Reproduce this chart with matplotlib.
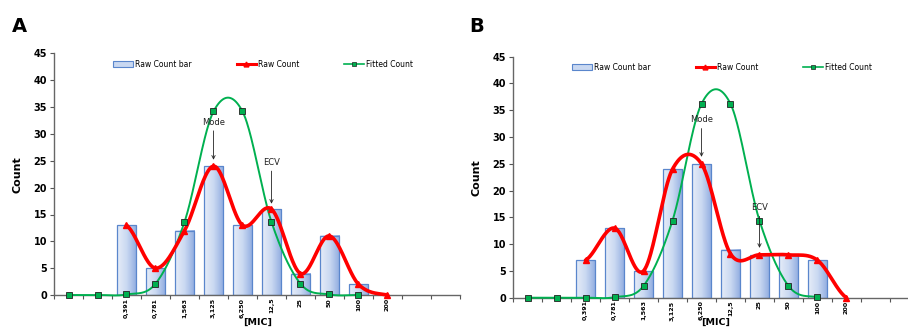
import numpy as np
import matplotlib
matplotlib.use("Agg")
import matplotlib.pyplot as plt
from matplotlib.patches import Patch, Rectangle
from matplotlib.lines import Line2D
from matplotlib.colors import LinearSegmentedColormap

# ---------------- data ----------------
categories = ["", "", "0,391", "0,781", "1,563", "3,125", "6,250", "12,5", "25", "50", "100", "200", "", ""]

# Panel A
a_bar_idx = [2, 3, 4, 5, 6, 7, 8, 9, 10]
a_bar_val = [13, 5, 12, 24, 13, 16, 4, 11, 2]
a_raw_idx = [2, 3, 4, 5, 6, 7, 8, 9, 10, 11]
a_raw_val = [13, 5, 12, 24, 13, 16, 4, 11, 2, 0]
a_fit_idx = [0, 1, 2, 3, 4, 5, 6, 7, 8, 9, 10]
a_fit_val = [0, 0, 0.1, 2.1, 13.6, 34.2, 34.2, 13.6, 2.1, 0.1, 0.0]

# Panel B
b_bar_idx = [2, 3, 4, 5, 6, 7, 8, 9, 10]
b_bar_val = [7, 13, 5, 24, 25, 9, 8, 8, 7]
b_raw_idx = [2, 3, 4, 5, 6, 7, 8, 9, 10, 11]
b_raw_val = [7, 13, 5, 24, 25, 8.2, 8, 8, 7, 0]
b_fit_idx = [0, 1, 2, 3, 4, 5, 6, 7, 8, 9, 10]
b_fit_val = [0, 0, 0, 0.1, 2.2, 14.4, 36.2, 36.2, 14.4, 2.2, 0.1]

# ---------------- helpers ----------------
def catmull(xs, ys, n=40):
    xs = np.asarray(xs, float)
    ys = np.asarray(ys, float)
    px = np.concatenate([[xs[0]], xs, [xs[-1]]])
    py = np.concatenate([[ys[0]], ys, [ys[-1]]])
    ox, oy = [], []
    for i in range(1, len(px) - 2):
        t = np.linspace(0, 1, n, endpoint=False)
        P0, P1, P2, P3 = py[i - 1], py[i], py[i + 1], py[i + 2]
        y = 0.5 * (2 * P1 + (-P0 + P2) * t + (2 * P0 - 5 * P1 + 4 * P2 - P3) * t ** 2
                   + (-P0 + 3 * P1 - 3 * P2 + P3) * t ** 3)
        x = px[i] + (px[i + 1] - px[i]) * t
        ox.append(x)
        oy.append(y)
    ox.append([xs[-1]])
    oy.append([ys[-1]])
    return np.concatenate(ox), np.concatenate(oy)

grad_cmap = LinearSegmentedColormap.from_list("g", ["#e6edf8", "#c9d8f1", "#8fabe0"])
RED = "#ff0000"
GREEN = "#00b050"
EDGE = "#5a86cc"

W, H = 908, 327
fig = plt.figure(figsize=(W / 100, H / 100), dpi=100)


def panel(rect, bar_idx, bar_val, raw_idx, raw_val, fit_idx, fit_val, annots, leg_y):
    l, t, r, b = rect
    ax = fig.add_axes([l / W, 1 - b / H, (r - l) / W, (b - t) / H])
    ax.set_xlim(-0.5, 13.5)
    ax.set_ylim(0, 45)
    bw = 0.68
    grad = np.linspace(0, 1, 64).reshape(1, -1)
    for x, v in zip(bar_idx, bar_val):
        ax.imshow(grad, extent=[x - bw / 2, x + bw / 2, 0, v], aspect="auto",
                  cmap=grad_cmap, zorder=1, interpolation="bilinear")
        ax.add_patch(Rectangle((x - bw / 2, 0), bw, v, fill=False, edgecolor=EDGE,
                               lw=0.9, zorder=2))
    ax.set_xlim(-0.5, 13.5)
    ax.set_ylim(0, 45)

    fx, fy = catmull(fit_idx, fit_val)
    ax.plot(fx, fy, color=GREEN, lw=1.4, zorder=3, clip_on=False)
    rx, ry = catmull(raw_idx, raw_val)
    ax.plot(rx, ry, color=RED, lw=2.6, zorder=4, clip_on=False, solid_capstyle="round")
    ax.plot(raw_idx, raw_val, ls="none", marker="^", ms=4.5, color=RED, zorder=5, clip_on=False)
    ax.plot(fit_idx, fit_val, ls="none", marker="s", ms=4, mfc=GREEN, mec="#222222",
            mew=0.6, zorder=6, clip_on=False)

    for txt, x, ty, ay in annots:
        ax.annotate(txt, xy=(x, ay), xytext=(x, ty), ha="center", va="center",
                    fontsize=6, color="#222222", zorder=7,
                    arrowprops=dict(arrowstyle="->", color="#222222", lw=0.6,
                                    shrinkA=1, shrinkB=0))

    ax.set_yticks(range(0, 46, 5))
    ax.set_yticklabels([str(v) for v in range(0, 46, 5)], fontsize=7, fontweight="bold")
    ax.set_xticks(np.arange(-0.5, 13.6, 1))
    ax.set_xticklabels([])
    ax.set_xticks(np.arange(0, 14), minor=True)
    ax.set_xticklabels(categories, minor=True, rotation=90, fontsize=4.6,
                       fontweight="bold")
    ax.tick_params(axis="x", which="major", length=3, width=0.8, color="#555555", direction="out")
    ax.tick_params(axis="x", which="minor", length=0, pad=2)
    ax.tick_params(axis="y", length=3, width=0.8, color="#555555", pad=2)
    for s in ["top", "right"]:
        ax.spines[s].set_visible(False)
    for s in ["left", "bottom"]:
        ax.spines[s].set_color("#666666")
        ax.spines[s].set_linewidth(1.0)
    ax.set_ylabel("Count", fontsize=8, fontweight="bold", labelpad=8)

    handles = [
        Patch(facecolor="#c9d8f1", edgecolor=EDGE, lw=0.8),
        Line2D([0], [0], color=RED, lw=2.2, marker="^", ms=3.5),
        Line2D([0], [0], color=GREEN, lw=1.2, marker="s", ms=3.5, mfc=GREEN, mec="#222222", mew=0.5),
    ]
    ax.legend(handles, ["Raw Count bar", "Raw Count", "Fitted Count"], ncol=3,
              loc="center", bbox_to_anchor=(0.515, leg_y), frameon=False, fontsize=5.5,
              columnspacing=5.9, handlelength=2.6, handletextpad=0.2, handleheight=0.8)
    return ax


panel((54, 53.5, 460, 295), a_bar_idx, a_bar_val, a_raw_idx, a_raw_val, a_fit_idx, a_fit_val,
      [("Mode", 5, 32.2, 25.2), ("ECV", 7, 24.7, 17.0)], 0.955)
panel((513, 56.7, 919, 297.7), b_bar_idx, b_bar_val, b_raw_idx, b_raw_val, b_fit_idx, b_fit_val,
      [("Mode", 6, 33.2, 26.3), ("ECV", 8, 16.8, 9.3)], 0.955)

fig.text(258 / W, 1 - 326.5 / H, "[MIC]", fontsize=6.8, fontweight="bold", ha="center", va="bottom")
fig.text(716 / W, 1 - 326.5 / H, "[MIC]", fontsize=6.8, fontweight="bold", ha="center", va="bottom")

fig.text(12 / W, 1 - 26 / H, "A", fontsize=14, fontweight="bold", va="center", ha="left")
fig.text(469 / W, 1 - 26 / H, "B", fontsize=14, fontweight="bold", va="center", ha="left")

fig.savefig("out.png", dpi=100)
